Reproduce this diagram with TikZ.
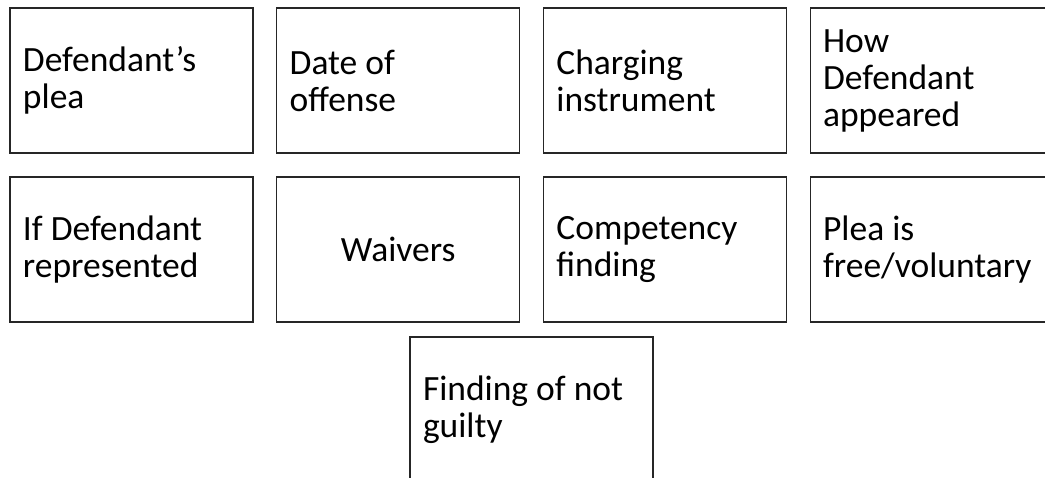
\documentclass[tikz,border=0pt]{standalone}
\usepackage{fontspec}
\setmainfont{Carlito}
\usetikzlibrary{positioning}
\tikzset{
  item/.style={rectangle, draw=black!85, line width=1.2pt, minimum height=145pt,
    text width=217pt, inner xsep=13pt, inner ysep=0pt, outer sep=0pt, align=flush left,
    font=\fontsize{35.5}{37}\selectfont},
  itemc/.style={item, align=flush center},
}

\begin{document}
\begin{tikzpicture}[x=1pt, y=-1pt, node distance=24pt and 23.7pt]
\clip (0,0) rectangle (1045,478);

%% ---- top row ----
\node[item] (plea) at (131.5,80.5) {Defendant’s\\plea};
\node[item, right=of plea] (date) {Date of\\offense};
\node[item, right=of date] (charge) {Charging\\instrument};
\node[item, right=of charge] (appear) {How\\Defendant\\appeared};

%% ---- second row ----
\node[item, below=of plea] (repr) {If Defendant\\represented};
\node[itemc, below=of date] (waiv) {Waivers};
\node[item, below=of charge] (comp) {Competency\\finding};
\node[item, below=of appear] (free) {Plea is\\free/voluntary};

%% ---- bottom ----
\node[item] (guilt) at (531.5,409.5) {Finding of not\\guilty};
\end{tikzpicture}
\end{document}
